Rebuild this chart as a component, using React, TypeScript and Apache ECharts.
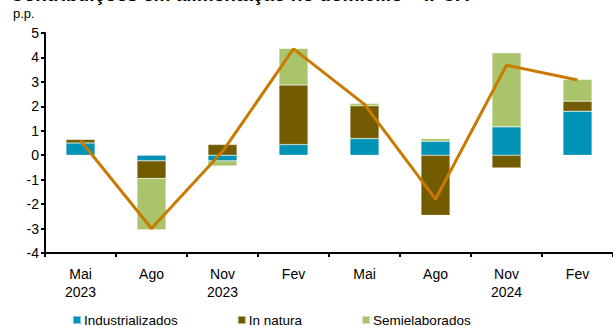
import React, { useEffect, useRef } from "react";
import * as echarts from "echarts";

const categories = ["Mai\n2023", "Ago", "Nov\n2023", "Fev", "Mai", "Ago", "Nov\n2024", "Fev"];
const industrializados = [0.5, -0.23, -0.23, 0.44, 0.68, 0.57, 1.16, 1.8];
const inNatura = [0.15, -0.72, 0.44, 2.43, 1.34, -2.46, -0.52, 0.41];
const semielaborados = [0.0, -2.1, -0.21, 1.5, 0.1, 0.11, 3.03, 0.89];
const total = [0.6, -3.0, 0.15, 4.35, 2.08, -1.8, 3.68, 3.08];

const FONT = "Liberation Sans, Arial, sans-serif";

export default function App() {
  const ref = useRef<HTMLDivElement>(null);
  useEffect(() => {
    if (!ref.current) return;
    const chart = echarts.init(ref.current, undefined, { renderer: "svg" });
    const barStyle = (color: string) => ({
      color,
      borderColor: "rgba(255,255,255,0.5)",
      borderWidth: 0.5,
    });
    chart.setOption({
      animation: false,
      textStyle: { fontFamily: FONT },
      graphic: [
        {
          type: "text",
          left: 10,
          top: -15,
          style: {
            text: "Contribuições em alimentação no domicílio – IPCA",
            font: "bold 19px " + FONT,
            fill: "#000",
          },
        },
        {
          type: "text",
          left: 13,
          top: 7,
          style: { text: "p.p.", font: "13px " + FONT, fill: "#000" },
        },
      ],
      legend: {
        bottom: 0,
        left: 72,
        padding: 0,
        itemWidth: 8,
        itemHeight: 8,
        itemGap: 59,
        icon: "rect",
        textStyle: { fontSize: 13.5, color: "#000", fontFamily: FONT, padding: [0, 0, 0, -2] },
        data: ["Industrializados", "In natura", "Semielaborados"],
      },
      grid: { left: 45, right: 0, top: 33, bottom: 74 },
      xAxis: [
        {
          type: "category",
          data: categories,
          position: "bottom",
          axisLine: { show: false },
          axisTick: { show: false },
          axisLabel: {
            color: "#000",
            fontSize: 14,
            fontFamily: FONT,
            lineHeight: 18,
            margin: 12,
            align: "center",
          },
        },
        {
          type: "category",
          data: categories,
          position: "bottom",
          axisLine: { show: true, onZero: true, lineStyle: { color: "#000", width: 2 } },
          axisTick: { show: true, inside: false, length: 4, lineStyle: { color: "#000", width: 2 } },
          axisLabel: { show: false },
        },
      ],
      yAxis: {
        type: "value",
        min: -4,
        max: 5,
        interval: 1,
        axisLine: { show: true, lineStyle: { color: "#000", width: 2 } },
        axisTick: { show: true, length: 4, lineStyle: { color: "#000", width: 2 } },
        splitLine: { show: false },
        axisLabel: { color: "#000", fontSize: 14, fontFamily: FONT, margin: 6 },
      },
      series: [
        {
          name: "Industrializados",
          type: "bar",
          stack: "a",
          data: industrializados,
          barWidth: 29,
          itemStyle: barStyle("#0093B5"),
        },
        {
          name: "In natura",
          type: "bar",
          stack: "a",
          data: inNatura,
          barWidth: 29,
          itemStyle: barStyle("#735C00"),
        },
        {
          name: "Semielaborados",
          type: "bar",
          stack: "a",
          data: semielaborados,
          barWidth: 29,
          itemStyle: barStyle("#A9C46A"),
        },
        {
          name: "Total",
          type: "line",
          data: total,
          symbol: "none",
          lineStyle: { color: "#C97A00", width: 3 },
          z: 5,
        },
      ],
    });
    return () => chart.dispose();
  }, []);
  return <div ref={ref} style={{ width: 613, height: 327, position: "absolute", left: 0, top: 0 }} />;
}
